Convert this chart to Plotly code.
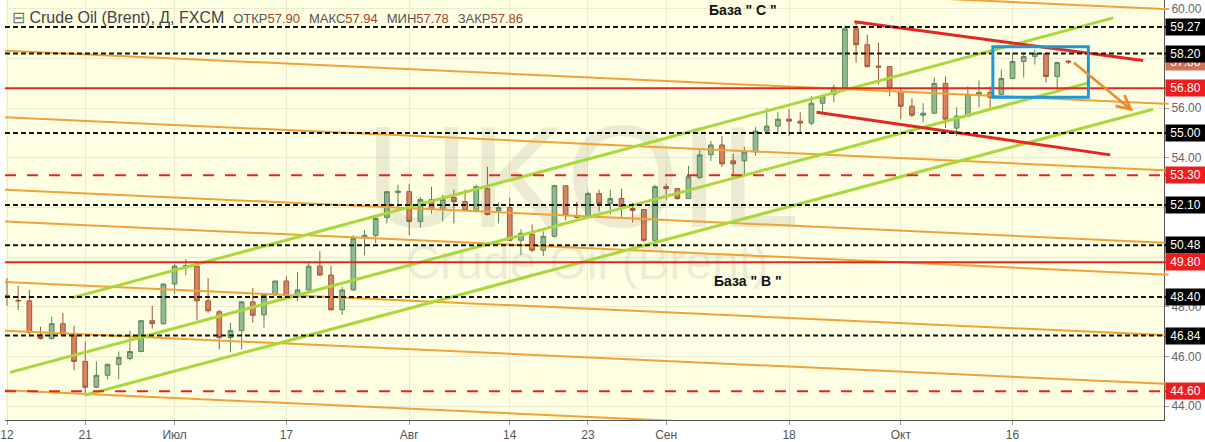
import plotly.graph_objects as go

# ---------------- data ----------------
bar_index = list(range(96))
opens = [48.46, 48.26, 48.24, 46.88, 46.72, 47.32, 46.88, 45.80, 44.76, 45.24,
         45.68, 45.92, 46.20, 47.44, 47.32, 48.92, 49.62, 49.64, 48.24, 47.80,
         46.76, 47.04, 48.20, 47.68, 48.48, 49.04, 48.40, 48.68, 49.64, 49.28,
         47.88, 48.68, 50.80, 50.88, 51.60, 52.60, 52.64, 51.44, 52.32, 51.92,
         52.40, 52.24, 51.88, 52.76, 51.88, 52.00, 50.68, 50.92, 50.28, 50.84,
         52.88, 51.68, 51.64, 52.56, 52.16, 52.36, 51.96, 51.92, 50.68, 52.84,
         52.76, 52.36, 53.20, 54.12, 54.52, 53.88, 53.88, 54.24, 55.08, 55.28,
         55.56, 55.48, 55.40, 56.20, 56.56, 56.84, 59.20, 58.56, 57.70, 57.68,
         56.68, 56.08, 55.72, 55.80, 57.00, 55.20, 55.68, 56.56, 56.64, 56.56,
         57.20, 57.88, 58.08, 58.20, 57.28, 57.90]
highs = [49.16, 48.84, 48.68, 47.20, 47.60, 47.76, 47.24, 46.60, 45.80, 45.72,
         46.20, 47.04, 47.48, 48.04, 48.92, 49.72, 49.92, 49.68, 49.16, 47.88,
         47.36, 48.24, 48.76, 48.48, 49.04, 49.24, 49.40, 49.76, 50.24, 49.64,
         48.80, 50.88, 51.08, 51.68, 52.64, 52.92, 52.96, 52.44, 52.84, 52.52,
         52.72, 52.72, 52.92, 53.64, 52.20, 52.40, 51.12, 51.32, 51.04, 52.92,
         52.88, 52.24, 52.64, 52.72, 52.72, 52.76, 52.20, 51.92, 52.92, 52.96,
         52.80, 53.68, 54.36, 54.68, 54.88, 54.16, 54.44, 55.24, 56.00, 55.84,
         55.96, 55.84, 56.48, 56.56, 56.96, 59.32, 59.44, 58.96, 58.64, 57.68,
         56.84, 56.40, 56.20, 57.24, 57.28, 56.04, 56.88, 57.12, 56.88, 57.56,
         58.24, 58.24, 58.36, 58.24, 57.88, 57.94]
lows = [48.04, 47.88, 46.80, 46.68, 46.68, 46.84, 45.44, 44.48, 44.72, 45.08,
        45.08, 45.84, 46.16, 47.12, 47.28, 48.52, 49.28, 47.48, 47.76, 46.28,
        46.16, 46.28, 47.36, 47.16, 48.44, 48.36, 48.24, 48.64, 49.24, 47.84,
        47.68, 48.64, 50.08, 50.56, 51.36, 51.88, 50.88, 51.20, 51.76, 51.44,
        51.36, 51.84, 51.80, 51.68, 51.36, 50.64, 50.08, 50.20, 50.04, 50.80,
        51.48, 51.56, 51.60, 51.84, 51.72, 51.56, 51.40, 50.60, 50.60, 52.32,
        52.32, 52.36, 53.16, 53.88, 53.64, 53.28, 53.28, 54.08, 54.96, 54.96,
        54.88, 54.96, 55.32, 55.84, 56.24, 56.84, 57.84, 57.64, 56.96, 56.48,
        55.56, 55.64, 55.44, 55.76, 55.20, 54.88, 55.68, 56.04, 55.96, 56.48,
        57.16, 57.24, 57.76, 57.04, 56.68, 57.78]
closes = [48.42, 48.24, 46.96, 46.72, 47.32, 46.88, 45.80, 44.76, 45.24, 45.68,
          45.96, 46.20, 47.44, 47.32, 48.92, 49.64, 49.66, 48.24, 47.84, 46.76,
          47.04, 48.20, 47.66, 48.48, 49.04, 48.44, 48.68, 49.64, 49.28, 47.88,
          48.68, 50.76, 50.88, 51.56, 52.64, 52.66, 51.44, 52.32, 51.92, 52.32,
          52.24, 51.88, 52.84, 51.72, 52.00, 50.68, 50.96, 50.28, 50.84, 52.88,
          51.68, 51.60, 52.56, 52.16, 52.36, 52.04, 51.88, 50.68, 52.84, 52.76,
          52.36, 53.24, 54.12, 54.52, 53.76, 53.76, 54.24, 55.08, 55.28, 55.56,
          55.48, 55.40, 56.20, 56.48, 56.84, 59.20, 58.56, 57.68, 57.66, 56.80,
          56.08, 55.72, 55.80, 57.00, 55.56, 55.68, 56.56, 56.64, 56.44, 57.20,
          57.88, 58.08, 58.20, 57.28, 57.84, 57.86]

tick_idx = [0, 7, 15, 25, 36, 45, 52, 59, 70, 80, 90]
tick_labels = ["12", "21", "Июл", "17", "Авг", "14", "23", "Сен", "18", "Окт", "16"]
price_ticks = [44, 46, 48, 50, 52, 54, 56, 58, 60]

levels_black = [59.27, 58.20, 55.00, 52.10, 50.48, 48.40, 46.84]
levels_red_solid = [56.80, 49.80]
levels_red_dash = [53.30, 44.60]
last_price = 57.86
ohlc_last = {"ОТКР": 57.90, "МАКС": 57.94, "МИН": 57.78, "ЗАКР": 57.86}

# trend lines: (bar0, price0, bar1, price1)
orange_lines = [
    (-0.18, 62.14, 103.56, 60.00),
    (-0.18, 58.32, 103.56, 56.18),
    (-0.18, 55.64, 103.56, 53.50),
    (-0.18, 52.72, 103.56, 50.58),
    (-0.18, 51.44, 103.56, 49.30),
    (-0.18, 49.00, 103.56, 46.86),
    (-0.18, 47.04, 103.56, 44.90),
    (-0.18, 44.64, 103.56, 42.50),
]
green_lines = [
    (5.79, 48.36, 99.02, 59.64),
    (0.27, 45.36, 96.97, 57.04),
    (6.95, 44.44, 102.58, 55.96),
]
red_lines = [
    (75.85, 59.48, 101.69, 57.92),
    (72.46, 55.84, 98.75, 54.12),
]
zone_box = (88.24, 58.48, 96.79, 56.44)
arrow_line = (95.37, 57.88, 100.80, 55.88)
labels_base = [("База \" С \"", 65.9, 59.96), ("База \" В \"", 66.3, 49.04)]

# ---------------- figure ----------------
X_RANGE = [-0.18, 103.56]
Y_RANGE = [43.44, 60.36]
BG = "#fefee3"
FONT = "Liberation Sans, Arial, sans-serif"

fig = go.Figure()

# watermark (behind everything)
fig.add_trace(go.Scatter(x=[51.5], y=[52.68], mode="text", text=["UKOIL"],
                         textfont=dict(size=145, color="rgba(110,110,100,0.13)", family=FONT),
                         hoverinfo="skip", showlegend=False))
fig.add_trace(go.Scatter(x=[51.9], y=[49.6], mode="text", text=["Crude Oil (Brent)"],
                         textfont=dict(size=48, color="rgba(110,110,100,0.12)", family=FONT),
                         hoverinfo="skip", showlegend=False))

fig.add_trace(go.Candlestick(
    x=bar_index, open=opens, high=highs, low=lows, close=closes,
    increasing=dict(fillcolor="#8fbc8f", line=dict(color="#5f845f", width=1)),
    decreasing=dict(fillcolor="#d9825f", line=dict(color="#9c5a3c", width=1)),
    whiskerwidth=0, hoverinfo="skip", showlegend=False))

def add_line(seg, color, width, dash=None):
    fig.add_trace(go.Scatter(x=[seg[0], seg[2]], y=[seg[1], seg[3]], mode="lines",
                             line=dict(color=color, width=width, dash=dash),
                             hoverinfo="skip", showlegend=False))

for seg in orange_lines:
    add_line(seg, "#f2a233", 2)

shapes = []
for lv in levels_black:
    shapes.append(dict(type="line", xref="paper", x0=0, x1=1, yref="y", y0=lv, y1=lv,
                       line=dict(color="#141414", width=2, dash="5px,3px")))
for lv in levels_red_solid:
    shapes.append(dict(type="line", xref="paper", x0=0, x1=1, yref="y", y0=lv, y1=lv,
                       line=dict(color="#e3261f", width=2)))
for lv in levels_red_dash:
    shapes.append(dict(type="line", xref="paper", x0=0, x1=1, yref="y", y0=lv, y1=lv,
                       line=dict(color="#e3261f", width=2, dash="11px,11px")))
# small marks on the price scale
for lv in levels_black:
    shapes.append(dict(type="line", xref="paper", x0=1, x1=1.004, yref="y", y0=lv, y1=lv,
                       line=dict(color="#141414", width=2)))
for lv in levels_red_solid + levels_red_dash:
    shapes.append(dict(type="line", xref="paper", x0=1, x1=1.004, yref="y", y0=lv, y1=lv,
                       line=dict(color="#e3261f", width=2)))
for seg in orange_lines:
    if Y_RANGE[0] < seg[3] < Y_RANGE[1]:
        shapes.append(dict(type="line", xref="paper", x0=1, x1=1.004, yref="y", y0=seg[3], y1=seg[3],
                           line=dict(color="#f2a233", width=2)))

for seg in green_lines:
    add_line(seg, "#a9d83a", 3)
for seg in red_lines:
    add_line(seg, "#e3261f", 3)

shapes.append(dict(type="rect", xref="x", yref="y", x0=zone_box[0], x1=zone_box[2],
                   y0=zone_box[3], y1=zone_box[1], line=dict(color="#1c9ad8", width=3)))

annotations = []
annotations.append(dict(x=arrow_line[2], y=arrow_line[3], ax=arrow_line[0], ay=arrow_line[1],
                        xref="x", yref="y", axref="x", ayref="y", text="", showarrow=True,
                        arrowhead=5, arrowsize=1.1, arrowwidth=2.5, arrowcolor="#f0882e"))
for txt, bx, by in labels_base:
    annotations.append(dict(x=bx, y=by, xref="x", yref="y", text="<b>%s</b>" % txt,
                            showarrow=False, font=dict(size=14, color="#111", family=FONT)))

# header
vcol = "#a3472b"
parts = ['<span style="color:#777">⊟</span>\u00a0<span style="color:#444">Crude Oil (Brent), Д, FXCM</span>']
for k, v in ohlc_last.items():
    parts.append('\u00a0\u00a0<span style="font-size:13px;color:#555">%s</span>'
                 '<span style="font-size:13px;color:%s">%.2f</span>' % (k, vcol, v))
annotations.append(dict(x=0, y=1, xref="paper", yref="paper", xanchor="left", yanchor="top",
                        xshift=5, yshift=-7, text="".join(parts), showarrow=False,
                        font=dict(size=16, color="#444", family=FONT)))

# price-scale labels
def price_label(val, bg):
    return dict(x=1, y=val, xref="paper", yref="y", xanchor="left", yanchor="middle",
                xshift=1, text="%.2f" % val, showarrow=False, bgcolor=bg, width=37, height=14,
                borderpad=1, font=dict(size=12, color="white", family=FONT))

annotations.append(price_label(last_price, "#cf7359"))
for lv in levels_black:
    annotations.append(price_label(lv, "#000000"))
for lv in levels_red_solid + levels_red_dash:
    annotations.append(price_label(lv, "#ee1c1c"))

fig.update_layout(
    width=1205, height=442,
    margin=dict(l=0, r=41, t=0, b=19),
    paper_bgcolor="white", plot_bgcolor=BG,
    showlegend=False, boxgap=0.4,
    shapes=shapes, annotations=annotations,
    font=dict(family=FONT, color="#555"),
    xaxis=dict(range=X_RANGE, tickmode="array", tickvals=tick_idx, ticktext=tick_labels,
               showgrid=True, gridcolor="#ebebcf", gridwidth=1, zeroline=False,
               showline=True, linecolor="#555", linewidth=1, ticks="outside", ticklen=4,
               tickcolor="#999", ticklabeloverflow="allow",
               tickfont=dict(size=12, color="#555",
                             family="Liberation Sans Narrow, Arial Narrow, " + FONT),
               rangeslider=dict(visible=False), fixedrange=True),
    yaxis=dict(range=Y_RANGE, side="right", tickmode="array", tickvals=price_ticks,
               ticktext=["%.2f" % v for v in price_ticks], showgrid=True, gridcolor="#ebebcf",
               zeroline=False, showline=True, linecolor="#555", linewidth=1, ticks="outside",
               ticklen=4, tickcolor="#999", tickfont=dict(size=12, color="#666", family=FONT),
               fixedrange=True),
)

fig.write_html("out.html", config=dict(displayModeBar=False),
               post_script="document.body.style.margin='0';document.body.style.overflow='hidden';")
